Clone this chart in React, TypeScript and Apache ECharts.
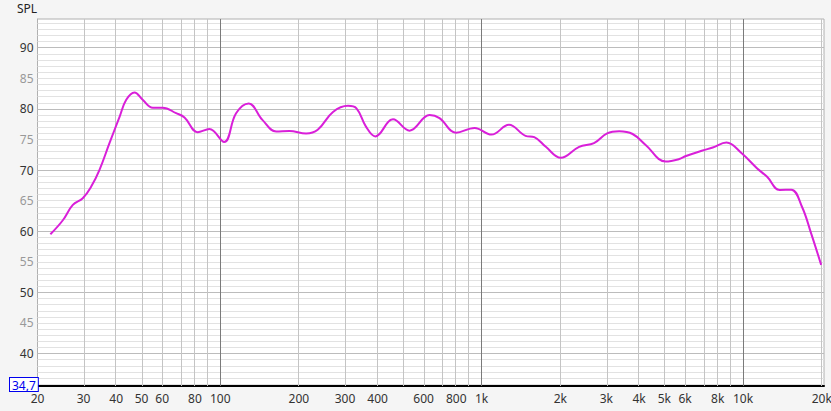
import React, { useEffect, useRef } from "react";
import * as echarts from "echarts";

// Frequency response (Hz, dB SPL)
const freqs = [
  22.4, 25.0, 27.3, 29.8, 32.1, 34.5, 37.7, 41.2, 43.7, 47.0, 50.5, 55.2, 60.3, 67.8, 73.0, 82.0,
  90.9, 103.5, 115, 128.6, 145, 163.8, 184, 213, 236, 270, 308, 332, 361, 392, 458, 530, 632, 690,
  798, 940, 1090, 1272, 1472, 1590, 1760, 2008, 2360, 2690, 3020, 3360, 3780, 4240, 5060, 5700,
  6050, 7000, 7660, 8640, 9880, 11300, 12360, 13800, 15300, 16800, 18200, 19900,
];
const spl = [
  59.5, 61.8, 64.3, 65.4, 67.3, 70.0, 74.4, 78.7, 81.5, 82.7, 81.5, 80.2, 80.2, 79.3, 78.6, 76.2,
  76.7, 74.6, 79.3, 80.9, 78.2, 76.3, 76.4, 76.0, 76.6, 79.5, 80.5, 80.1, 77.1, 75.5, 78.3, 76.45, 79.0, 78.5,
  76.1, 76.9, 75.8, 77.4, 75.6, 75.4, 73.8, 72.0, 73.8, 74.4, 76.0, 76.35, 75.9, 74.1, 71.4, 71.8,
  72.3, 73.2, 73.7, 74.5, 72.75, 70.3, 68.9, 66.75, 66.8, 64.0, 59.7, 54.5,
];

const xLabelFreqs = [20, 30, 40, 50, 60, 80, 100, 200, 300, 400, 600, 800, 1000, 2000, 3000, 4000, 5000, 6000, 8000, 10000, 20000];
const xGridFreqs = [
  30, 40, 50, 60, 70, 80, 90, 100, 200, 300, 400, 500, 600, 700, 800, 900, 1000,
  2000, 3000, 4000, 5000, 6000, 7000, 8000, 9000, 10000, 20000,
];
const decadeFreqs = [100, 1000, 10000];
const yLabels = [40, 45, 50, 55, 60, 65, 70, 75, 80, 85, 90];
const xMinF = 20;
const xMaxF = 20400;
const yMin = 34.7;
const yMax = 94.7;

export default function App() {
  const ref = useRef<HTMLDivElement>(null);
  useEffect(() => {
    if (!ref.current) return;
    const chart = echarts.init(ref.current, undefined, { renderer: "svg" });
    const lg = (f: number) => Math.log10(f);
    const hLines: any[] = [];
    for (let v = 35; v <= 94; v++) {
      hLines.push({
        yAxis: v,
        lineStyle: { color: v % 10 === 0 ? "#bcbcbc" : "#e2e2e2", width: 1, type: "solid" },
      });
    }
    const vLines = xGridFreqs.map((f) => ({
      xAxis: lg(f),
      lineStyle: {
        color: decadeFreqs.includes(f) ? "#7a7a7a" : "#c4c4c4",
        width: 1,
        type: "solid",
      },
    }));
    const fmtF = (v: number) => {
      const f = Math.round(Math.pow(10, v));
      return f >= 1000 ? f / 1000 + "k" : String(f);
    };
    chart.setOption({
      animation: false,
      backgroundColor: "#f5f5f5",
      textStyle: { fontFamily: "Noto Sans" },
      grid: {
        left: 37.5,
        right: 7,
        top: 19,
        bottom: 25,
        containLabel: false,
        outerBoundsMode: "none",
        show: true,
        backgroundColor: "#ffffff",
        borderColor: "#b0b0b0",
        borderWidth: 1,
      },
      xAxis: {
        type: "value",
        min: lg(xMinF),
        max: lg(xMaxF),
        splitLine: { show: false },
        axisTick: { show: false },
        axisLine: { show: true, onZero: false, lineStyle: { color: "#000", width: 2 } },
        axisLabel: {
          customValues: xLabelFreqs.map(lg),
          formatter: (v: number) => fmtF(v),
          color: "#333",
          fontSize: 12,
          margin: 6,
          showMinLabel: true,
          showMaxLabel: true,
        },
      },
      yAxis: {
        type: "value",
        min: yMin,
        max: yMax,
        splitLine: { show: false },
        axisTick: { show: false },
        axisLine: { show: true, lineStyle: { color: "#b0b0b0", width: 1 } },
        axisLabel: {
          customValues: yLabels,
          color: (v: any) => (Number(v) % 10 === 0 ? "#333" : "#999"),
          fontSize: 12,
          margin: 4,
        },
      },
      graphic: [
        {
          type: "text",
          left: 17,
          top: 2,
          style: { text: "SPL", fill: "#222", font: "12px 'Noto Sans'" },
        },
        {
          type: "text",
          left: 9,
          top: 377,
          z: 100,
          style: {
            text: "34,7",
            fill: "#0000ee",
            font: "12px 'Noto Sans'",
            backgroundColor: "#ffffff",
            borderColor: "#0000ee",
            borderWidth: 1,
            padding: [1, 2, 0, 2],
          },
        },
      ],
      series: [
        {
          type: "line",
          data: [[lg(xMinF), 50]],
          showSymbol: false,
          lineStyle: { opacity: 0 },
          silent: true,
          z: 1,
          markLine: {
            silent: true,
            symbol: ["none", "none"],
            label: { show: false },
            emphasis: { disabled: true },
            animation: false,
            data: [...hLines, ...vLines],
          },
        },
        {
          type: "line",
          z: 5,
          data: freqs.map((f, i) => [lg(f), spl[i]]),
          smooth: 0.4,
          showSymbol: false,
          lineStyle: { color: "#d91fd9", width: 2 },
          itemStyle: { color: "#d91fd9" },
        },
      ],
    });
    return () => chart.dispose();
  }, []);
  return (
    <div
      ref={ref}
      style={{ position: "fixed", left: 0, top: 0, width: 831, height: 411 }}
    />
  );
}
